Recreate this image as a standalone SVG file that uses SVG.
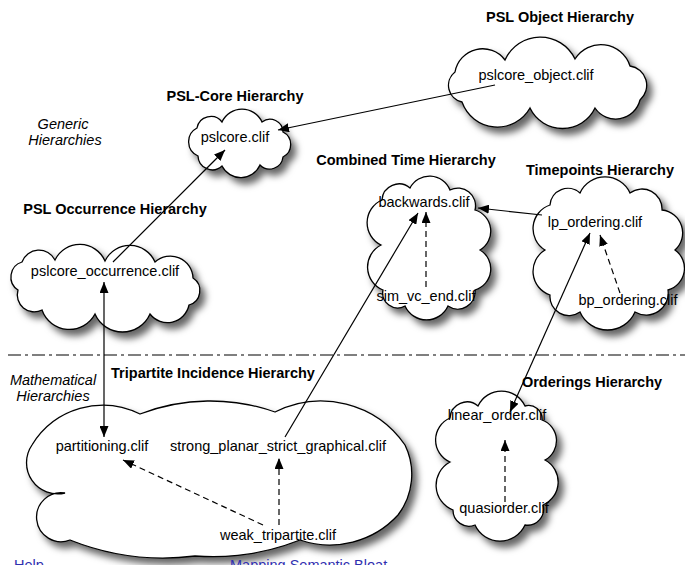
<svg xmlns="http://www.w3.org/2000/svg" width="685" height="565" viewBox="0 0 685 565">
<style>
.cloud{fill:#fff;stroke:#000;stroke-width:1.3;filter:url(#sh)}
.t{font-family:"Liberation Sans",Arial,sans-serif;font-size:14.5px;fill:#000;text-anchor:middle}
.h{font-family:"Liberation Sans",Arial,sans-serif;font-size:14.5px;font-weight:bold;fill:#000;text-anchor:middle}
.i{font-family:"Liberation Sans",Arial,sans-serif;font-size:14.5px;font-style:italic;fill:#000;text-anchor:middle}
.c{fill:none;stroke:#000;stroke-width:1.2}
.d{stroke-dasharray:6 4}
.ae{marker-end:url(#ah)}
.as{marker-start:url(#ah)}
.lnk{font-family:"Liberation Sans",Arial,sans-serif;font-size:14.5px;fill:#3030b0}
</style>
<defs>
<filter id="sh" x="-10%" y="-10%" width="130%" height="140%">
<feGaussianBlur in="SourceAlpha" stdDeviation="3.5"/>
<feOffset dx="5" dy="6" result="b"/>
<feFlood flood-color="#000" flood-opacity="0.6"/>
<feComposite in2="b" operator="in"/>
<feMerge><feMergeNode/><feMergeNode in="SourceGraphic"/></feMerge>
</filter>
<marker id="ah" markerUnits="userSpaceOnUse" markerWidth="11" markerHeight="9" refX="11" refY="4.5" orient="auto-start-reverse">
<path d="M0,0 L11,4.5 L0,9 z" fill="#000"/>
</marker>
</defs>

<g id="object-hierarchy">
<path class="cloud" d="M455,72 A28,28 0 0 1 505,60 A38.5,38.5 0 0 1 575,59 A30.5,30.5 0 0 1 630,66 A19.5,19.5 0 0 1 640,100 A25,25 0 0 1 595,108 A36,36 0 0 1 530,108 A37.5,37.5 0 0 1 462,102 A17,17 0 0 1 455,72 Z"/>
<text class="h" x="560" y="22">PSL Object Hierarchy</text>
<text class="t" x="536" y="80">pslcore_object.clif</text>
</g>

<g id="core-hierarchy">
<path class="cloud" d="M197,128 A14,14 0 0 1 222,122 A22,22 0 0 1 262,122 A13,13 0 0 1 283,132 A14,14 0 0 1 283,157 A13.5,13.5 0 0 1 260,165 A21,21 0 0 1 222,166 A14.3,14.3 0 0 1 198,156 A15.5,15.5 0 0 1 197,128 Z"/>
<text class="h" x="235" y="101">PSL-Core Hierarchy</text>
<text class="t" x="235" y="142">pslcore.clif</text>
</g>

<g id="generic-label">
<text class="i" x="63" y="129">Generic</text>
<text class="i" x="65" y="145">Hierarchies</text>
</g>

<g id="occurrence-hierarchy">
<path class="cloud" d="M22,262 A18,18 0 0 1 55,260 A27.5,27.5 0 0 1 105,261 A27.5,27.5 0 0 1 155,262 A22.7,22.7 0 0 1 193,278 A15,15 0 0 1 189,305 A22,22 0 0 1 150,314 A30,30 0 0 1 95,314 A29,29 0 0 1 42,310 A17,17 0 0 1 18,290 A15.6,15.6 0 0 1 22,262 Z"/>
<text class="h" x="115" y="214">PSL Occurrence Hierarchy</text>
<text class="t" x="105" y="276">pslcore_occurrence.clif</text>
</g>

<g id="combined-time-hierarchy">
<path class="cloud" d="M382,200 A17,17 0 0 1 410,188 A22,22 0 0 1 450,190 A17.6,17.6 0 0 1 475,210 A22,22 0 0 1 480,250 A22,22 0 0 1 475,290 A17.3,17.3 0 0 1 448,306 A23.6,23.6 0 0 1 405,306 A15,15 0 0 1 383,290 A24.8,24.8 0 0 1 381,245 A24.8,24.8 0 0 1 382,200 Z"/>
<text class="h" x="406" y="165">Combined Time Hierarchy</text>
<text class="t" x="424" y="207">backwards.clif</text>
<text class="t" x="426" y="301">sim_vc_end.clif</text>
</g>

<g id="timepoints-hierarchy">
<path class="cloud" d="M550,205 A18,18 0 0 1 580,193 A27.5,27.5 0 0 1 630,193 A20,20 0 0 1 662,210 A23,23 0 0 1 675,250 A22.5,22.5 0 0 1 668,290 A22,22 0 0 1 635,312 A30,30 0 0 1 580,312 A19,19 0 0 1 550,295 A25,25 0 0 1 545,250 A25,25 0 0 1 550,205 Z"/>
<text class="h" x="600" y="175">Timepoints Hierarchy</text>
<text class="t" x="595" y="227">lp_ordering.clif</text>
<text class="t" x="628" y="305">bp_ordering.clif</text>
</g>

<line x1="8" y1="355" x2="685" y2="355" stroke="#000" stroke-width="1.2" stroke-dasharray="13 4 3 4"/>

<g id="mathematical-label">
<text class="i" x="53" y="385">Mathematical</text>
<text class="i" x="53" y="401">Hierarchies</text>
</g>

<g id="tripartite-hierarchy">
<path class="cloud" d="M32,445 A83,83 0 0 1 140,414 A196,196 0 0 1 275,412 A102,102 0 0 1 405,445 A67,67 0 0 1 398,515 A92.5,92.5 0 0 1 300,540 A237,237 0 0 1 195,556 A252,252 0 0 1 70,540 A24.5,24.5 0 1 1 65,493 A31.2,31.2 0 0 1 32,445 Z"/>
<text class="h" x="213" y="378">Tripartite Incidence Hierarchy</text>
<text class="t" x="102" y="451">partitioning.clif</text>
<text class="t" x="278" y="451">strong_planar_strict_graphical.clif</text>
<text class="t" x="278" y="540">weak_tripartite.clif</text>
</g>

<g id="orderings-hierarchy">
<path class="cloud" d="M450,418 A17,17 0 0 1 478,406 A26,26 0 0 1 525,406 A13.5,13.5 0 0 1 542,420 A22,22 0 0 1 545,460 A25,25 0 0 1 543,505 A16,16 0 0 1 525,525 A27.5,27.5 0 0 1 475,525 A16,16 0 0 1 453,510 A26.5,26.5 0 0 1 450,462 A24,24 0 0 1 450,418 Z"/>
<text class="h" x="592" y="387">Orderings Hierarchy</text>
<text class="t" x="497" y="420">linear_order.clif</text>
<text class="t" x="504" y="513">quasiorder.clif</text>
</g>

<g id="connectors">
<path class="c ae" d="M495,85 L278,130"/>
<path class="c ae" d="M113,262 L225,150"/>
<path class="c ae as" d="M104,437 L104,282"/>
<path class="c ae" d="M285,437 L418,213"/>
<path class="c d ae" d="M426,287 L426,212"/>
<path class="c ae" d="M542,215 L478,208"/>
<path class="c d ae" d="M620,293 L600,235"/>
<path class="c ae as" d="M510,412 L590,233"/>
<path class="c d ae" d="M279,525 L279,458"/>
<path class="c d ae" d="M263,525 L123,460"/>
<path class="c d ae" d="M505,502 L505,440"/>
</g>

<text class="lnk" x="14" y="570">Help</text>
<text class="lnk" x="230" y="570">Mapping Semantic Bloat</text>
</svg>
